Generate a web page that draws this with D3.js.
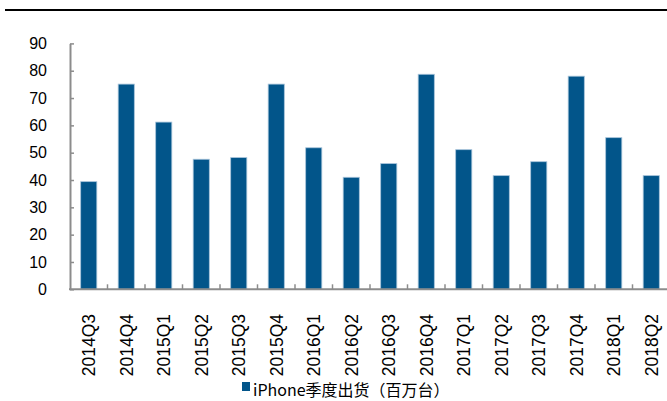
<!DOCTYPE html>
<html>
<head>
<meta charset="utf-8">
<script src="https://cdn.jsdelivr.net/npm/d3@7"></script>
<style>
  body { margin: 0; background: #fff; }
  svg { display: block; }
</style>
</head>
<body>
<div id="chart"></div>
<script>
// quarters and iPhone shipments (millions)
var quarters = ["2014Q3", "2014Q4", "2015Q1", "2015Q2", "2015Q3", "2015Q4", "2016Q1", "2016Q2",
                "2016Q3", "2016Q4", "2017Q1", "2017Q2", "2017Q3", "2017Q4", "2018Q1", "2018Q2"];
var shipments = [39.4, 75.1, 61.2, 47.6, 48.2, 75.1, 51.8, 41.0,
                 46.0, 78.7, 51.1, 41.6, 46.7, 78.0, 55.5, 41.6];
var yTicks = [0, 10, 20, 30, 40, 50, 60, 70, 80, 90];
var legendLabel = "iPhone季度出货（百万台）";

var W = 667, H = 401;
var svg = d3.select("#chart").append("svg").attr("width", W).attr("height", H);

// black rule on top
svg.append("line")
    .attr("x1", 5).attr("x2", W).attr("y1", 10).attr("y2", 10)
    .attr("stroke", "#000").attr("stroke-width", 2);

var plotLeft = 70, plotRight = 670, plotTop = 43.4, plotBottom = 289.3;

var x = d3.scaleBand()
    .domain(quarters)
    .range([plotLeft, plotRight])
    .paddingInner(0.57)
    .paddingOuter(0.285);

var y = d3.scaleLinear()
    .domain([0, 90])
    .range([plotBottom, plotTop]);

var axisColor = "#8c8c8c";

// bars
svg.selectAll("rect.bar")
    .data(shipments)
    .enter()
    .append("rect")
        .attr("class", "bar")
        .attr("x", function(d, i) { return x(quarters[i]); })
        .attr("y", function(d) { return y(d); })
        .attr("width", x.bandwidth())
        .attr("height", function(d) { return plotBottom - y(d); })
        .attr("fill", "#02558a")
        .attr("stroke", "#a7c3da")
        .attr("stroke-width", 0.8);

// y axis
var yAxis = svg.append("g")
    .attr("transform", "translate(" + plotLeft + ",0)")
    .call(d3.axisRight(y).tickValues(yTicks).tickSize(4).tickSizeOuter(0).tickFormat(""));
yAxis.select(".domain").attr("stroke", axisColor).attr("stroke-width", 2);
yAxis.selectAll(".tick line").attr("stroke", axisColor).attr("stroke-width", 1.5);

// y labels
svg.selectAll("text.ylab")
    .data(yTicks)
    .enter()
    .append("text")
        .attr("class", "ylab")
        .attr("x", 47)
        .attr("y", function(d) { return y(d); })
        .attr("dy", "0.36em")
        .attr("text-anchor", "end")
        .attr("font-family", "Liberation Sans, Arial, sans-serif")
        .attr("font-size", 16)
        .attr("fill", "#000")
        .text(function(d) { return d; });

// x axis line
svg.append("line")
    .attr("x1", plotLeft - 1).attr("x2", W).attr("y1", plotBottom).attr("y2", plotBottom)
    .attr("stroke", axisColor).attr("stroke-width", 2);

// category separator ticks
svg.selectAll("line.xtick")
    .data(quarters.slice(0, -1))
    .enter()
    .append("line")
        .attr("class", "xtick")
        .attr("x1", function(d) { return x(d) + x.bandwidth() / 2 + x.step() / 2; })
        .attr("x2", function(d) { return x(d) + x.bandwidth() / 2 + x.step() / 2; })
        .attr("y1", plotBottom - 5).attr("y2", plotBottom)
        .attr("stroke", axisColor).attr("stroke-width", 1.5);

// x labels (rotated)
svg.selectAll("text.xlab")
    .data(quarters)
    .enter()
    .append("text")
        .attr("class", "xlab")
        .attr("transform", function(d) {
            return "translate(" + (x(d) + x.bandwidth() / 2) + ",314) rotate(-90)";
        })
        .attr("dy", "0.36em")
        .attr("text-anchor", "end")
        .attr("font-family", "Liberation Sans, Arial, sans-serif")
        .attr("font-size", 17.5)
        .attr("fill", "#000")
        .text(function(d) { return d; });

// legend
svg.append("rect")
    .attr("x", 242).attr("y", 382)
    .attr("width", 8).attr("height", 9)
    .attr("fill", "#02558a");
svg.append("text")
    .attr("x", 253).attr("y", 396)
    .attr("font-family", "Noto Sans CJK SC, sans-serif")
    .attr("font-size", 16)
    .attr("fill", "#000")
    .text(legendLabel);
</script>
</body>
</html>
